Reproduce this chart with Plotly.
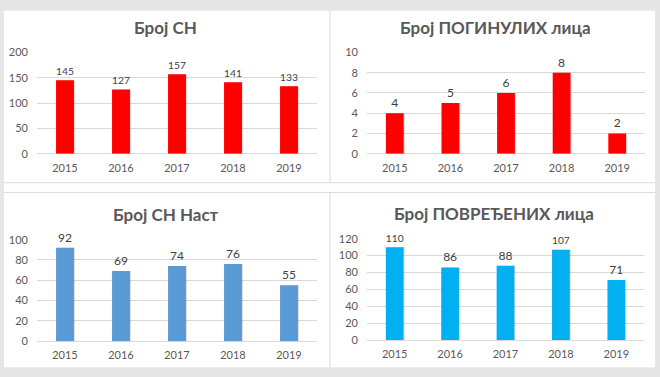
import plotly.graph_objects as go

years = ["2015", "2016", "2017", "2018", "2019"]
broj_sn = [145, 127, 157, 141, 133]
broj_poginulih = [4, 5, 6, 8, 2]
broj_sn_nast = [92, 69, 74, 76, 55]
broj_povredjenih = [110, 86, 88, 107, 71]

titles = ["Број СН", "Број ПОГИНУЛИХ лица", "Број СН Наст", "Број ПОВРЕЂЕНИХ лица"]
series = [broj_sn, broj_poginulih, broj_sn_nast, broj_povredjenih]
colors = ["#FF0000", "#FF0000", "#5B9BD5", "#00B0F0"]
yranges = [[0, 200], [0, 10], [0, 100], [0, 120]]
dticks = [50, 2, 20, 20]

W, H = 660, 377
# plot areas in pixels: (x0, x1, y0top, y1bottom)
areas = [(37, 317, 47, 152), (367, 645, 47, 152), (37, 317, 241, 346), (367, 644, 240, 345)]
title_pos = [(165, 21), (495, 21), (166, 215), (494, 214)]

FONT = "Lato, Calibri, Arial, sans-serif"
TXT = "#595959"
GRID = "#D9D9D9"

fig = go.Figure()
layout = dict(
    width=W, height=H, margin=dict(l=0, r=0, t=0, b=0),
    paper_bgcolor="#E6E6E6", plot_bgcolor="rgba(0,0,0,0)",
    showlegend=False, barmode="overlay",
    font=dict(family=FONT, color=TXT, size=11),
)

shapes = []
# white canvas
shapes.append(dict(type="rect", xref="paper", yref="paper", x0=4 / W, x1=655 / W,
                   y0=1 - 373 / H, y1=1 - 4 / H, fillcolor="white", line=dict(width=0), layer="below"))
line_style = dict(color=GRID, width=1)
for yy in (182, 192):
    shapes.append(dict(type="line", xref="paper", yref="paper", x0=4 / W, x1=655 / W,
                       y0=1 - yy / H, y1=1 - yy / H, line=line_style, layer="below"))
for (ya, yb) in ((4, 182), (192, 373)):
    shapes.append(dict(type="line", xref="paper", yref="paper", x0=330 / W, x1=330 / W,
                       y0=1 - yb / H, y1=1 - ya / H, line=line_style, layer="below"))

annotations = []
for i in range(4):
    sfx = "" if i == 0 else str(i + 1)
    xa, ya = "x" + sfx, "y" + sfx
    x0, x1, yt, yb = areas[i]
    # soft shadow
    fig.add_trace(go.Bar(x=years, y=series[i], xaxis=xa, yaxis=ya,
                         marker=dict(color="rgba(0,0,0,0.13)", line=dict(width=0)),
                         width=0.32, offset=-0.14, hoverinfo="skip"))
    fig.add_trace(go.Bar(x=years, y=series[i], xaxis=xa, yaxis=ya,
                         marker=dict(color=colors[i], line=dict(width=0)),
                         width=0.32, offset=-0.16,
                         text=[str(v) for v in series[i]], textposition="outside",
                         textfont=dict(family=FONT, size=12, color="#404040"),
                         cliponaxis=False))
    layout["xaxis" + sfx] = dict(domain=[x0 / W, x1 / W], anchor=ya, type="category",
                                 range=[-0.5, 4.5], showgrid=False, showline=False,
                                 zeroline=False, ticks="", ticklabelstandoff=6,
                                 tickfont=dict(family=FONT, size=11, color=TXT), fixedrange=True)
    layout["yaxis" + sfx] = dict(domain=[1 - yb / H, 1 - yt / H], anchor=xa,
                                 range=yranges[i], dtick=dticks[i], showgrid=True,
                                 gridcolor=GRID, gridwidth=1, zeroline=True, zerolinecolor=GRID,
                                 zerolinewidth=1, showline=False, ticks="", ticklabelstandoff=8,
                                 tickfont=dict(family=FONT, size=11, color=TXT), fixedrange=True)
    tx, ty = title_pos[i]
    annotations.append(dict(text="<b>" + titles[i] + "</b>", xref="paper", yref="paper",
                            x=tx / W, y=1 - ty / H, xanchor="center", yanchor="middle",
                            showarrow=False, font=dict(family=FONT, size=17, color=TXT)))

layout["shapes"] = shapes
layout["annotations"] = annotations
fig.update_layout(**layout)
fig.write_html("out.html", config={"displayModeBar": False},
               post_script="document.body.style.margin='0px';document.body.style.padding='0px';")
